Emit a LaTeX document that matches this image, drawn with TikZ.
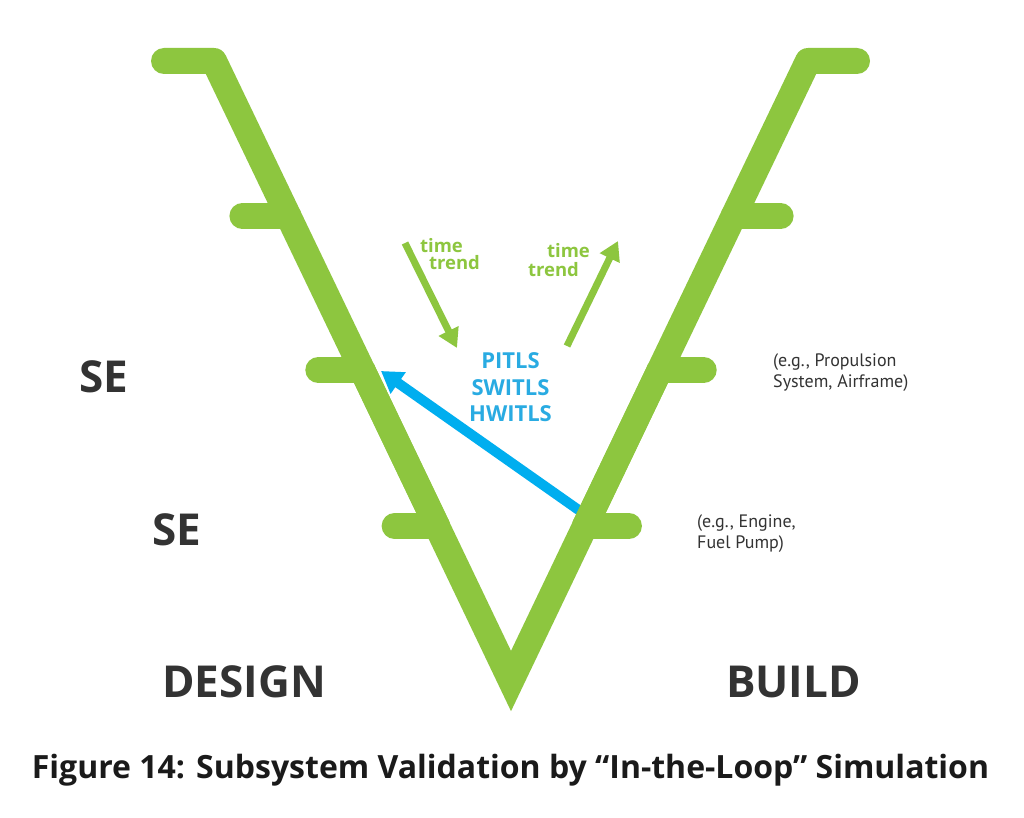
\documentclass[tikz,border=0pt]{standalone}
\usepackage{fontspec}
\setmainfont{Open Sans}
\newfontfamily\notefont{PT Sans}
\usetikzlibrary{arrows.meta}
\definecolor{vgreen}{HTML}{8DC63F}
\definecolor{vblue}{HTML}{00AEEF}
\definecolor{tblue}{HTML}{29ABE2}
\definecolor{dgrey}{HTML}{333333}
\definecolor{capblack}{HTML}{1A1A1A}
\tikzset{
  varm/.style={draw=vgreen, line width=26pt},
  vstub/.style={varm, line cap=round, line join=round},
  vtip/.style={varm, line join=miter, miter limit=10},
  bluearrow/.style={draw=vblue, line width=10pt, -{Triangle[length=21pt,width=25pt]}},
  trendarrow/.style={draw=vgreen, line width=7pt, -{Triangle[length=19pt,width=21pt]}},
  bigtxt/.style={inner sep=0pt, anchor=base, text=dgrey, font=\bfseries\fontsize{44}{52}\selectfont},
  sim/.style={inner sep=0pt, anchor=base, text=tblue, font=\bfseries\fontsize{22}{26}\selectfont},
  trendtxt/.style={inner sep=0pt, anchor=base, text=vgreen, font=\bfseries\fontsize{18.5}{20}\selectfont},
  note/.style={inner sep=0pt, anchor=base west, text=dgrey, font=\notefont\fontsize{18}{22}\selectfont},
  captxt/.style={inner sep=0pt, anchor=base, text=capblack, font=\bfseries\fontsize{32}{36}\selectfont}
}
\begin{document}
\begin{tikzpicture}[x=1pt,y=-1pt]
\useasboundingbox[fill=white] (0,0) rectangle (1024,818);

% key points of the V (centre line)
\coordinate (lt) at (214,61);
\coordinate (rt) at (808,61);
\coordinate (bot) at (511,681);
\coordinate (lts) at (164,61);
\coordinate (rts) at (857,61);
% arm points at tick heights
\coordinate (la1) at (288.4,216);
\coordinate (la2) at (362.3,370);
\coordinate (la3) at (437.1,526);
\coordinate (ra1) at (733.6,216);
\coordinate (ra2) at (659.7,370);
\coordinate (ra3) at (584.9,526);
\coordinate (lt1) at (242.4,216);
\coordinate (lt2) at (318.3,370);
\coordinate (lt3) at (394.6,526);
\coordinate (rt1) at (780.6,216);
\coordinate (rt2) at (703.7,370);
\coordinate (rt3) at (628.9,526);

% blue in-the-loop arrow (under the V)
\coordinate (bs) at (590,518);
\coordinate (be) at (381,371);
\draw[bluearrow] (bs) -- (be);

% the V
\draw[vstub] (lts) -- (lt) -- (la3);
\draw[vstub] (rts) -- (rt) -- (ra3);
\draw[vtip] (la2) -- (bot) -- (ra2);
\draw[vstub] (lt1) -- (la1);
\draw[vstub] (lt2) -- (la2);
\draw[vstub] (lt3) -- (la3);
\draw[vstub] (rt1) -- (ra1);
\draw[vstub] (rt2) -- (ra2);
\draw[vstub] (rt3) -- (ra3);

% time trend arrows
\coordinate (ta1) at (405,243);
\coordinate (tb1) at (457,348);
\coordinate (ta2) at (567,346);
\coordinate (tb2) at (618,241);
\draw[trendarrow] (ta1) -- (tb1);
\draw[trendarrow] (ta2) -- (tb2);

\node[trendtxt] (tl1) at (441.5,252) {time};
\node[trendtxt] (tl2) at (454.5,269) {trend};
\node[trendtxt] (tr1) at (568.5,258) {time};
\node[trendtxt] (tr2) at (553.5,276) {trend};

% simulation levels
\node[sim] (pitls) at (510.5,368) {PITLS};
\node[sim] (switls) at (510.5,395) {SWITLS};
\node[sim] (hwitls) at (510.5,421) {HWITLS};

% left labels
\node[bigtxt] (se1) at (103.5,392) {SE};
\node[bigtxt] (se2) at (176.5,545) {SE};
\node[bigtxt] (design) at (244,697) {DESIGN};
\node[bigtxt] (build) at (793.5,697) {BUILD};

% notes
\node[note] (n1a) at (773,366) {(e.g., Propulsion};
\node[note] (n1b) at (773,387) {System, Airframe)};
\node[note] (n2a) at (697,527) {(e.g., Engine,};
\node[note] (n2b) at (697,548) {Fuel Pump)};

% caption
\node[captxt] (cap) at (510.5,778) {Figure 14: Subsystem Validation by “In-the-Loop” Simulation};
\end{tikzpicture}
\end{document}
